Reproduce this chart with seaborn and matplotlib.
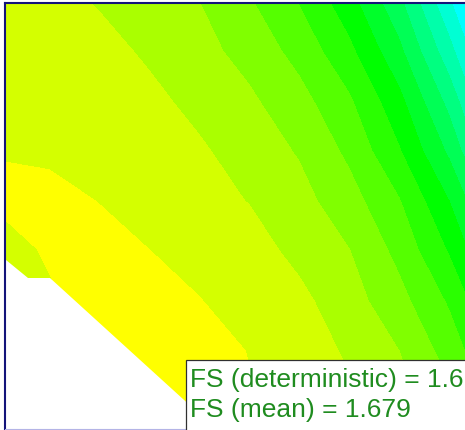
import numpy as np
import matplotlib
matplotlib.use("Agg")
import matplotlib.pyplot as plt
from matplotlib.patches import Rectangle
import seaborn as sns

sns.set_theme(style="white")
plt.rcParams['font.family'] = ['Liberation Sans', 'DejaVu Sans']

# ---- data: factor of safety at grid nodes ----
grid_x = [0, 50, 100, 150, 200, 250, 300, 350, 400, 450, 500]
grid_y = [0, 50, 100, 150, 200, 250, 300, 350, 400, 450]

fs_row_0   = [1.735, 1.764, 1.809, 1.855, 1.900, 1.991, 2.106, 2.263, 2.477, 2.787, 3.120]
fs_row_50  = [1.730, 1.745, 1.766, 1.816, 1.868, 1.935, 2.035, 2.176, 2.376, 2.664, 3.000]
fs_row_100 = [1.720, 1.730, 1.750, 1.775, 1.829, 1.883, 1.965, 2.086, 2.271, 2.533, 2.880]
fs_row_150 = [1.705, 1.715, 1.730, 1.755, 1.786, 1.845, 1.909, 2.022, 2.192, 2.419, 2.750]
fs_row_200 = [1.680, 1.675, 1.702, 1.735, 1.768, 1.803, 1.866, 1.959, 2.094, 2.300, 2.580]
fs_row_250 = [1.740, 1.685, 1.670, 1.699, 1.730, 1.760, 1.826, 1.897, 2.029, 2.209, 2.450]
fs_row_300 = [1.800, 1.712, 1.660, 1.670, 1.697, 1.735, 1.775, 1.858, 1.967, 2.113, 2.340]
fs_row_350 = [1.800, 1.730, 1.670, 1.660, 1.675, 1.702, 1.756, 1.812, 1.900, 2.042, 2.230]
fs_row_400 = [1.820, 1.750, 1.690, 1.660, 1.670, 1.695, 1.735, 1.785, 1.858, 1.971, 2.130]
fs_row_450 = [1.840, 1.780, 1.720, 1.680, 1.665, 1.690, 1.720, 1.765, 1.830, 1.920, 2.050]

levels = [1.6, 1.7, 1.8, 1.9, 2.0, 2.1, 2.2, 2.3, 2.4, 2.5, 2.6, 2.7, 2.8, 2.9, 3.0, 3.1, 3.2]
band_colors = ['#FFFF00', '#D4FF00', '#AAFF00', '#80FF00', '#55FF00', '#2AFF00',
               '#00FF00', '#00FF2A', '#00FF55', '#00FF80', '#00FFAA', '#00FFD4',
               '#00FFFF', '#00D4FF', '#00AAFF', '#0080FF']

# region with no grid data (below the slope)
nodata_x = [0, 6, 28, 50, 239, 0]
nodata_y = [255, 260, 278, 278, 450, 450]

label_det = "FS (deterministic) = 1.6"
label_mean = "FS (mean) = 1.679"

# ---- figure ----
W, H = 465, 430
fig = plt.figure(figsize=(W / 100, H / 100), dpi=100)
ax = fig.add_axes([5 / W, 1.5 / H, 600 / W, 425.5 / H])

FS = np.array([fs_row_0, fs_row_50, fs_row_100, fs_row_150, fs_row_200,
               fs_row_250, fs_row_300, fs_row_350, fs_row_400, fs_row_450])
X, Y = np.meshgrid(grid_x, grid_y)
ax.contourf(X, Y, FS, levels=levels, colors=band_colors, zorder=1)
ax.fill(nodata_x, nodata_y, color='white', lw=0, zorder=2)

ax.set_xlim(5, 605)
ax.set_ylim(428.5, 3)
ax.set_xticks([])
ax.set_yticks([])
ax.spines['right'].set_visible(False)
for s in ['left', 'top']:
    ax.spines[s].set_color('#14147a')
    ax.spines[s].set_linewidth(1.5)
ax.spines['bottom'].set_color('#b4b4e6')
ax.spines['bottom'].set_linewidth(0.8)
for s in ax.spines.values():
    s.set_zorder(5)

# info box
box = Rectangle((185.5 / W, -0.05), 1.0, (430 - 359.5) / H + 0.05,
                transform=fig.transFigure, facecolor='white',
                edgecolor='#303030', lw=0.9, zorder=10)
fig.add_artist(box)
fig.text(190 / W, (430 - 387) / H, label_det, color='#1f8c1f', fontsize=19,
         va='baseline', ha='left', zorder=11)
fig.text(190 / W, (430 - 417) / H, label_mean, color='#1f8c1f', fontsize=19,
         va='baseline', ha='left', zorder=11)

fig.savefig('out.png', dpi=100)
